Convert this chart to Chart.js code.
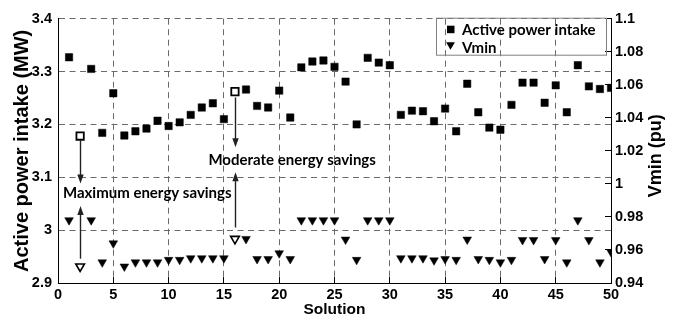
<!DOCTYPE html>
<html>
<head>
<meta charset="utf-8">
<script src="https://cdn.jsdelivr.net/npm/chart.js@4.4.1/dist/chart.umd.min.js"></script>
<style>
  body { margin: 0; background: #fff; }
</style>
</head>
<body>
<canvas id="chart" width="679" height="320"></canvas>
<script>
// values, one entry per solution
const solutions = [1, 2, 3, 4, 5, 6, 7, 8, 9, 10, 11, 12, 13, 14, 15, 16, 17, 18, 19, 20,
  21, 22, 23, 24, 25, 26, 27, 28, 29, 30, 31, 32, 33, 34, 35, 36, 37, 38, 39, 40,
  41, 42, 43, 44, 45, 46, 47, 48, 49, 50];
const activePower = [3.327, 3.178, 3.305, 3.184, 3.259, 3.179, 3.187, 3.192, 3.207, 3.197,
  3.204, 3.218, 3.232, 3.240, 3.210, 3.262, 3.266, 3.235, 3.232, 3.264,
  3.213, 3.308, 3.319, 3.321, 3.309, 3.281, 3.200, 3.326, 3.317, 3.312,
  3.218, 3.226, 3.225, 3.206, 3.230, 3.187, 3.277, 3.223, 3.194, 3.190,
  3.237, 3.279, 3.279, 3.241, 3.274, 3.223, 3.312, 3.272, 3.267, 3.269];
const vmin = [0.978, 0.950, 0.978, 0.9525, 0.964, 0.950, 0.9525, 0.9525, 0.9525, 0.954,
  0.954, 0.955, 0.955, 0.955, 0.955, 0.9667, 0.9667, 0.9545, 0.9545, 0.958,
  0.9545, 0.978, 0.978, 0.978, 0.978, 0.9663, 0.954, 0.978, 0.978, 0.978,
  0.955, 0.955, 0.955, 0.9537, 0.9545, 0.954, 0.9663, 0.9545, 0.954, 0.9525,
  0.954, 0.966, 0.966, 0.9545, 0.966, 0.9525, 0.978, 0.966, 0.9525, 0.9587];
// the two solutions drawn with open markers
const highlighted = [2, 16];

// tick labels
const solutionTicks = [0, 5, 10, 15, 20, 25, 30, 35, 40, 45, 50];
const powerTicks = [2.9, 3, 3.1, 3.2, 3.3, 3.4];
const vminTicks = [0.94, 0.96, 0.98, 1, 1.02, 1.04, 1.06, 1.08, 1.1];

// text notes and arrows, in data units of the left axis
const notes = [
  { text: 'Maximum energy savings', x: 8.07, y: 3.06 },
  { text: 'Moderate energy savings', x: 21.17, y: 3.123 }
];
const arrows = [
  { x: 2, from: 3.170, to: 3.088 },
  { x: 2, from: 2.946, to: 3.0455 },
  { x: 16, from: 3.251, to: 3.157 },
  { x: 16, from: 3.005, to: 3.1095 }
];

const tickFont = { family: 'Liberation Sans', size: 14.5, weight: 'bold' };
const noteFont = 'bold 15px Lato';
const gridGray = '#6a6a6a';
const dash = [6, 4.5];

const isOpen = s => highlighted.includes(s);

function setTicks(values) {
  return scale => { scale.ticks = values.map(v => ({ value: v })); };
}

// arrows, notes, right axis title and the boxed legend
const extras = {
  id: 'extras',
  afterDatasetsDraw(chart) {
    const { ctx, chartArea: ca, scales } = chart;
    const xs = scales.x, ys = scales.y;
    ctx.save();

    ctx.strokeStyle = '#222';
    ctx.fillStyle = '#222';
    ctx.lineWidth = 1.4;
    arrows.forEach(a => {
      const px = Math.round(xs.getPixelForValue(a.x)) + 0.5;
      const y0 = ys.getPixelForValue(a.from);
      const y1 = ys.getPixelForValue(a.to);
      const dir = y1 > y0 ? 1 : -1;
      ctx.beginPath();
      ctx.moveTo(px, y0);
      ctx.lineTo(px, y1 - dir * 6);
      ctx.stroke();
      ctx.beginPath();
      ctx.moveTo(px, y1);
      ctx.lineTo(px - 3.2, y1 - dir * 9);
      ctx.lineTo(px + 3.2, y1 - dir * 9);
      ctx.closePath();
      ctx.fill();
    });

    ctx.fillStyle = '#000';
    ctx.font = noteFont;
    ctx.textAlign = 'center';
    ctx.textBaseline = 'alphabetic';
    notes.forEach(n => {
      ctx.fillText(n.text, xs.getPixelForValue(n.x), ys.getPixelForValue(n.y));
    });

    // right axis title reads bottom to top like the left one
    ctx.save();
    ctx.translate(ca.right + 45, (ca.top + ca.bottom) / 2 + 5);
    ctx.rotate(-Math.PI / 2);
    ctx.textBaseline = 'middle';
    ctx.font = 'bold 18px Liberation Sans';
    ctx.fillText(scales.y1.options.title.text, 0, 0);
    ctx.restore();

    // legend box
    const bx = ca.right - 175, by = ca.top - 1;
    ctx.strokeStyle = '#808080';
    ctx.lineWidth = 1;
    ctx.strokeRect(bx + 0.5, by + 0.5, 170, 37);
    ctx.textAlign = 'left';
    ctx.font = noteFont;
    const ds = chart.data.datasets;
    // square
    ctx.fillStyle = '#000';
    ctx.fillRect(bx + 11, by + 8, 7.5, 7.5);
    ctx.fillText(ds[0].label, bx + 26, by + 17);
    // triangle
    const tx = bx + 14.5, ty = by + 27;
    ctx.beginPath();
    ctx.moveTo(tx, ty + 5);
    ctx.lineTo(tx - 4.4, ty - 2.5);
    ctx.lineTo(tx + 4.4, ty - 2.5);
    ctx.closePath();
    ctx.fill();
    ctx.fillText(ds[1].label, bx + 26, by + 35);

    ctx.restore();
  }
};

new Chart(document.getElementById('chart'), {
  type: 'scatter',
  data: {
    datasets: [{
      label: 'Active power intake',
      data: solutions.map((s, i) => ({ x: s, y: activePower[i] })),
      yAxisID: 'y',
      pointStyle: 'rect',
      pointRadius: 5.2,
      pointHoverRadius: 5.2,
      pointBackgroundColor: solutions.map(s => isOpen(s) ? '#fff' : '#000'),
      pointBorderColor: '#000',
      pointBorderWidth: solutions.map(s => isOpen(s) ? 1.8 : 0.5)
    }, {
      label: 'Vmin',
      data: solutions.map((s, i) => ({ x: s, y: vmin[i] })),
      yAxisID: 'y1',
      pointStyle: 'triangle',
      rotation: 180,
      pointRadius: 5,
      pointHoverRadius: 5,
      pointBackgroundColor: solutions.map(s => isOpen(s) ? '#fff' : '#000'),
      pointBorderColor: '#000',
      pointBorderWidth: solutions.map(s => isOpen(s) ? 1.6 : 0.5)
    }]
  },
  options: {
    responsive: false,
    animation: false,
    layout: { padding: { left: 0, right: 0, top: 15, bottom: 0 } },
    plugins: {
      legend: { display: false },
      tooltip: { enabled: false }
    },
    scales: {
      x: {
        type: 'linear',
        min: 0,
        max: 50,
        afterBuildTicks: setTicks(solutionTicks),
        afterFit: s => { s.height = 37; },
        ticks: { color: '#000', font: tickFont, padding: 9, maxRotation: 0, autoSkip: false,
          callback: v => String(v) },
        grid: {
          color: c => (c.tick && (c.tick.value === 0 || c.tick.value === 50)) ? 'rgba(0,0,0,0)' : gridGray,
          lineWidth: 1, tickLength: -6, tickColor: '#000', tickBorderDash: []
        },
        border: { color: '#000', width: 1, dash: dash },
        title: { display: true, text: 'Solution', color: '#000',
          font: { family: 'Liberation Sans', size: 15.5, weight: 'bold' }, padding: { top: 0, bottom: 1 } }
      },
      y: {
        position: 'left',
        min: 2.9,
        max: 3.4,
        afterBuildTicks: setTicks(powerTicks),
        afterFit: s => { s.width = 58; },
        ticks: { color: '#000', font: tickFont, padding: 6, callback: v => String(v) },
        grid: {
          color: c => (c.tick && c.tick.value === 2.9) ? 'rgba(0,0,0,0)' : gridGray,
          lineWidth: 1, drawTicks: false
        },
        border: { color: '#000', width: 1, dash: dash },
        title: { display: true, text: 'Active power intake (MW)', color: '#000',
          font: { family: 'Liberation Sans', size: 20, weight: 'bold' }, padding: { top: 10.5, bottom: 0 } }
      },
      y1: {
        position: 'right',
        min: 0.94,
        max: 1.1,
        afterBuildTicks: setTicks(vminTicks),
        afterFit: s => { s.width = 68; },
        ticks: { color: '#000', font: tickFont, padding: 10, callback: v => String(v) },
        grid: { drawOnChartArea: false, tickLength: -6, tickColor: '#000' },
        border: { color: '#000', width: 1 },
        title: { display: false, text: 'Vmin (pu)' }
      }
    }
  },
  plugins: [extras]
});
</script>
</body>
</html>
